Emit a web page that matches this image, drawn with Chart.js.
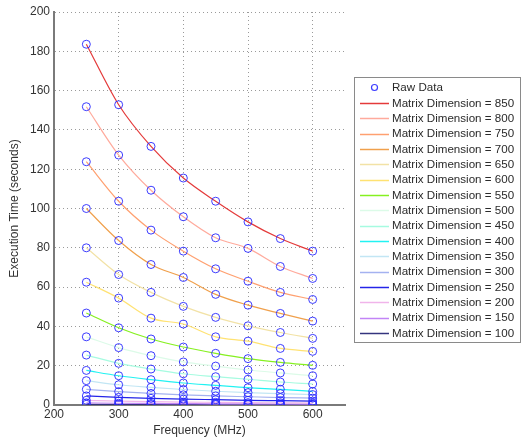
<!DOCTYPE html>
<html>
<head>
<meta charset="utf-8">
<script src="https://cdn.jsdelivr.net/npm/chart.js@4/dist/chart.umd.min.js"></script>
<style>
  html, body { margin: 0; padding: 0; background: #fff; }
  canvas { display: block; }
</style>
</head>
<body>
<canvas id="myChart" width="529" height="440"></canvas>
<script>
// frequencies (MHz) the kernel was run at
const freqs = [250, 300, 350, 400, 450, 500, 550, 600]

// execution time (s) per matrix dimension
const t850 = [183.6, 152.8, 131.6, 115.5, 103.7, 93.2, 84.7, 78.3]
const t800 = [151.8, 127.2, 109.3, 95.8, 85.1, 79.7, 70.5, 64.4]
const t750 = [123.8, 103.7, 89.0, 78.3, 69.3, 63.0, 57.3, 53.7]
const t700 = [100.0, 83.7, 71.5, 64.9, 56.3, 50.8, 46.6, 42.7]
const t650 = [80.0, 66.4, 57.3, 50.2, 44.6, 40.3, 36.9, 33.9]
const t600 = [62.5, 54.4, 44.2, 41.2, 34.7, 32.5, 28.8, 27.3]
const t550 = [46.8, 39.3, 33.6, 29.5, 26.3, 23.6, 21.7, 20.2]
const t500 = [34.7, 29.2, 25.1, 21.9, 19.8, 17.8, 16.3, 14.9]
const t450 = [25.4, 21.2, 18.3, 15.9, 14.4, 13.1, 11.7, 10.7]
const t400 = [17.6, 14.9, 12.9, 11.2, 10.0, 8.8, 8.0, 6.9]
const t350 = [12.4, 10.3, 9.0, 7.9, 7.0, 6.3, 5.8, 5.3]
const t300 = [8.0, 6.8, 5.9, 5.2, 4.6, 4.2, 3.8, 3.5]
const t250 = [4.6, 3.9, 3.4, 3.0, 2.7, 2.4, 2.2, 2.0]
const t200 = [2.4, 2.0, 1.7, 1.5, 1.35, 1.2, 1.1, 1.0]
const t150 = [1.1, 0.9, 0.8, 0.7, 0.6, 0.55, 0.5, 0.45]
const t100 = [0.35, 0.3, 0.25, 0.22, 0.2, 0.18, 0.16, 0.15]

const dims = [850, 800, 750, 700, 650, 600, 550, 500, 450, 400, 350, 300, 250, 200, 150, 100]
const times = [t850, t800, t750, t700, t650, t600, t550, t500, t450, t400, t350, t300, t250, t200, t150, t100]
const colors = ['#e43a3a', '#ffaa9c', '#ffa070', '#f0a04c', '#f2e2a6', '#ffe272', '#86f020', '#dcfbe8',
                '#a6fbe0', '#22f2f2', '#c2e6f4', '#a4b2f0', '#2424e8', '#f0b4ea', '#c284f6', '#34347e']

const rawPoints = []
times.forEach(arr => arr.forEach((v, i) => rawPoints.push({ x: freqs[i], y: v })))

const datasets = [{
  label: 'Raw Data',
  data: rawPoints,
  showLine: false,
  pointStyle: 'circle',
  pointRadius: 4,
  pointBorderWidth: 1,
  pointBorderColor: 'rgba(40,40,255,0.9)',
  pointBackgroundColor: 'rgba(0,0,0,0)'
}]
dims.forEach((d, k) => {
  datasets.push({
    label: 'Matrix Dimension = ' + d,
    data: times[k].map((v, i) => ({ x: freqs[i], y: v })),
    borderColor: colors[k],
    borderWidth: 1.2,
    pointRadius: 0,
    cubicInterpolationMode: 'monotone'
  })
})

const FONT = 'Liberation Sans, Arial, sans-serif'

// boxed legend like the original, outside the axes
const boxLegend = {
  id: 'boxLegend',
  afterDraw (chart) {
    const c = chart.ctx
    const ds = chart.data.datasets
    c.save()
    c.fillStyle = '#fff'
    c.strokeStyle = '#8a8a8a'
    c.lineWidth = 1
    c.fillRect(354.5, 77.5, 166, 265)
    c.strokeRect(354.5, 77.5, 166, 265)
    c.font = '11.6px ' + FONT
    c.textBaseline = 'middle'
    c.textAlign = 'left'
    ds.forEach((d, i) => {
      const y = 87.5 + i * 15.34
      if (i === 0) {
        c.beginPath()
        c.arc(374.5, y, 3, 0, Math.PI * 2)
        c.strokeStyle = d.pointBorderColor
        c.lineWidth = 1.2
        c.stroke()
      } else {
        c.beginPath()
        c.moveTo(360, Math.round(y) + 0.5)
        c.lineTo(389, Math.round(y) + 0.5)
        c.strokeStyle = d.borderColor
        c.lineWidth = 1.5
        c.stroke()
      }
      c.fillStyle = '#2a2a2a'
      c.fillText(d.label, 392, y + 0.5)
    })
    c.restore()
  }
}

const ctx = document.getElementById('myChart')
const chart = new Chart(ctx, {
  type: 'line',
  data: { datasets },
  plugins: [boxLegend],
  options: {
    responsive: false,
    animation: false,
    layout: { padding: { left: 0, top: 12, right: 184, bottom: 0 } },
    plugins: { legend: { display: false }, tooltip: { enabled: false } },
    scales: {
      x: {
        type: 'linear',
        min: 200,
        max: 650,
        ticks: { stepSize: 100, includeBounds: false, padding: 2, color: '#333', font: { family: FONT, size: 12 } },
        grid: { color: '#9a9a9a', drawTicks: false },
        border: { color: '#7a7a7a', width: 2, dash: [1, 3] },
        title: { display: true, text: 'Frequency (MHz)', color: '#333', padding: { top: 0, bottom: 2 }, font: { family: FONT, size: 12 } },
        afterFit (scale) { scale.height = 35 }
      },
      y: {
        min: 0,
        max: 200,
        ticks: { stepSize: 20, padding: 4, color: '#333', font: { family: FONT, size: 12 } },
        grid: { color: '#9a9a9a', drawTicks: false },
        border: { color: '#7a7a7a', width: 2, dash: [1, 3] },
        title: { display: true, text: 'Execution Time (seconds)', color: '#333', padding: { top: 7, bottom: 0 }, font: { family: FONT, size: 12 } },
        afterFit (scale) { scale.width = 54 }
      }
    }
  }
})
</script>
</body>
</html>
